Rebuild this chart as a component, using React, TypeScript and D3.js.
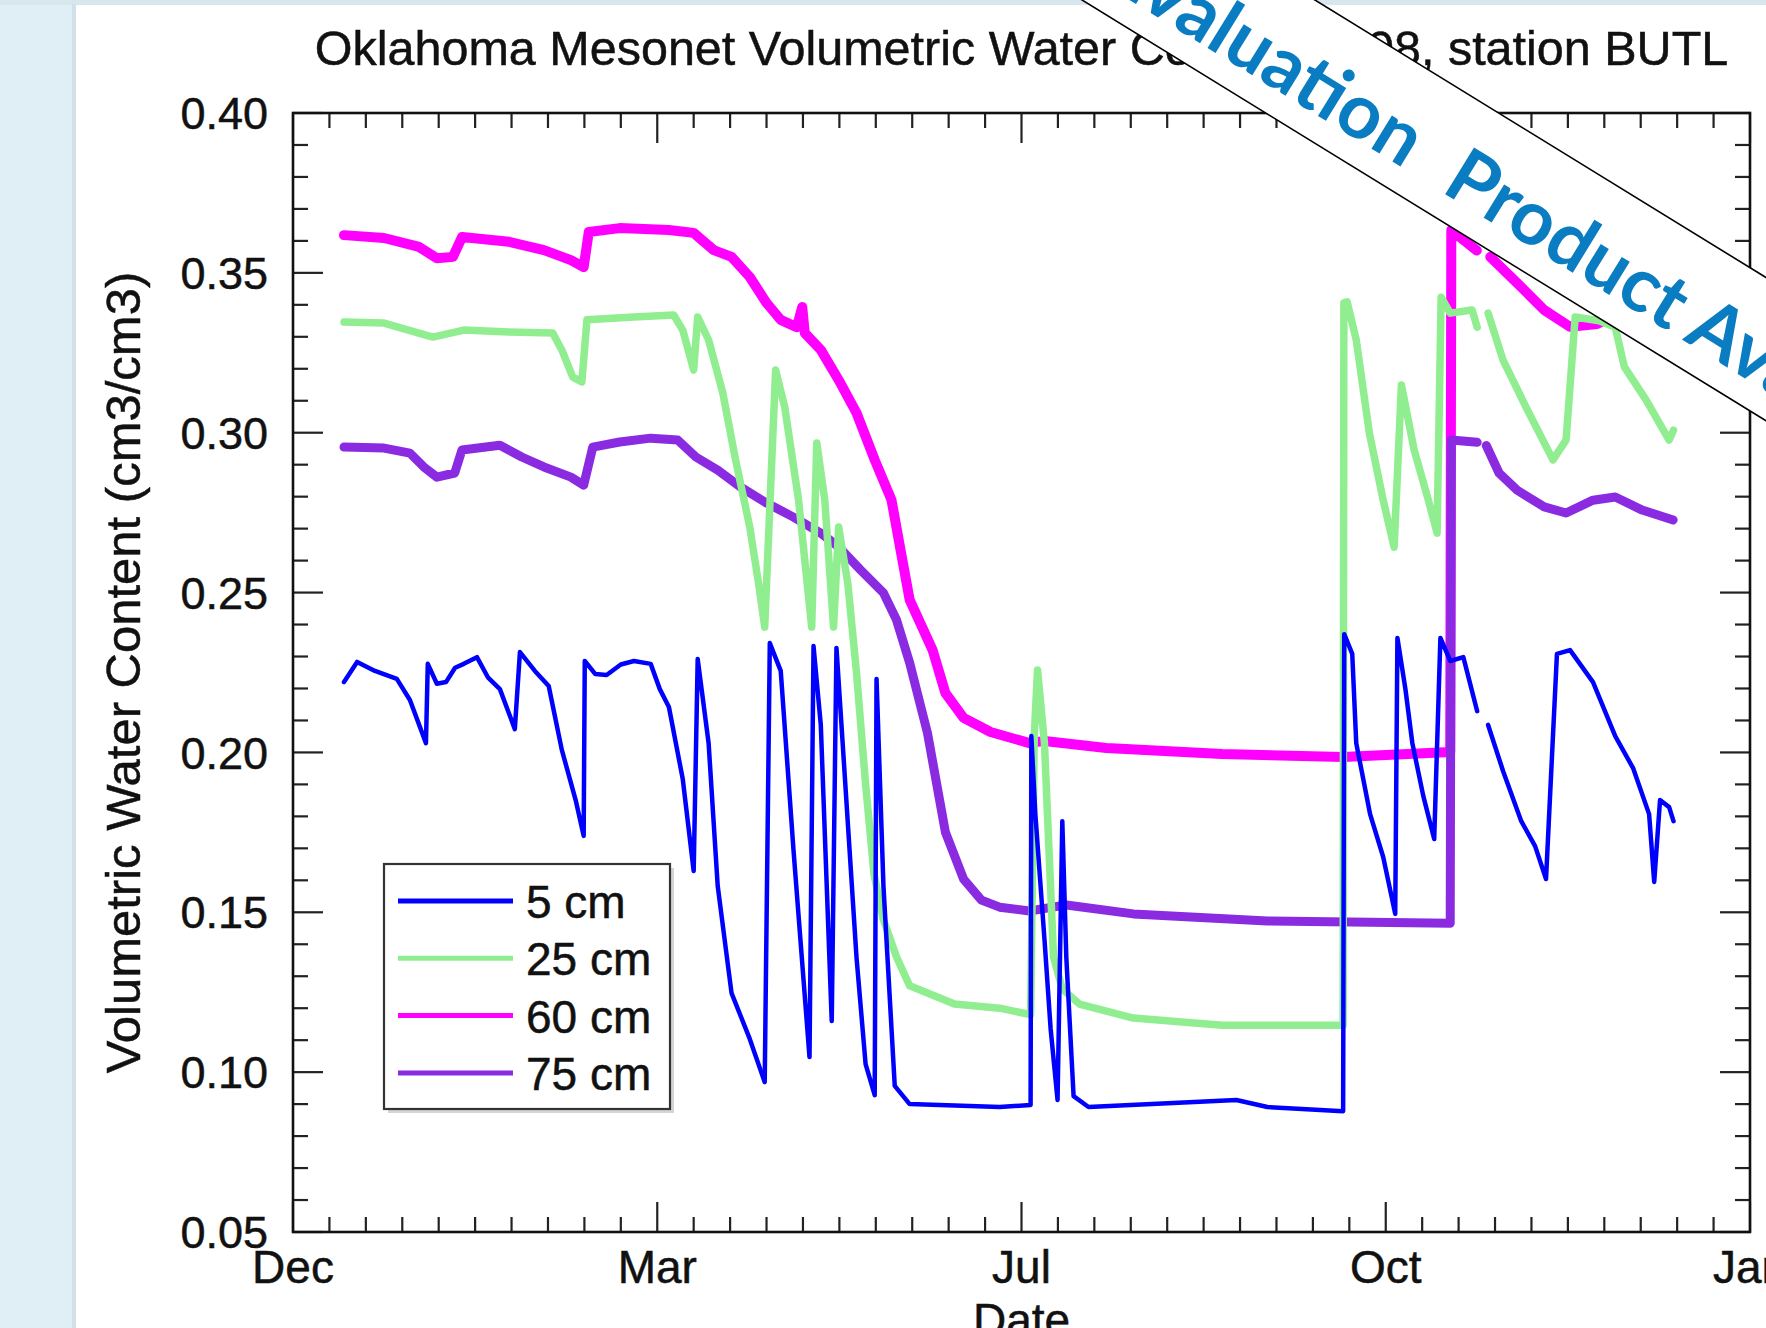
import React from "react";
import * as d3 from "d3";

const W = 1766;
const H = 1328;

const TITLE = "Oklahoma Mesonet Volumetric Water Content 2008, station BUTL";
const X_LABEL = "Date";
const Y_LABEL = "Volumetric Water Content (cm3/cm3)";
const WATERMARK_A = "Evaluation";
const WATERMARK_B = " Product Available";

// x axis runs in days counted from 18 Dec 2007; day-of-year 2008 = axisDay - 13
const DAY_OFFSET = 13;
const X_DOMAIN = [0, 400];
const X_MAJOR = [0, 100, 200, 300, 400];
const X_TICK_LABELS = ["Dec", "Mar", "Jul", "Oct", "Jan"];
const Y_DOMAIN = [0.05, 0.4];
const Y_MAJOR = [0.05, 0.1, 0.15, 0.2, 0.25, 0.3, 0.35, 0.4];

type Pt = [number, number | null];

// [day of year 2008, volumetric water content]
const depth5: Pt[] = [
  [1, 0.222], [4.6, 0.2283], [9.5, 0.2255], [15.5, 0.223], [19.1, 0.2164], [23.5, 0.2029],
  [24, 0.2277], [26.5, 0.2215], [29, 0.222], [31.5, 0.2265], [33.9, 0.2277], [37.5, 0.2298], [40.5, 0.2235],
  [43.8, 0.2198], [47.9, 0.2073],
  [49.3, 0.2314], [53.4, 0.2255], [57.2, 0.2208], [60.8, 0.2008], [64.6, 0.1851], [66.8, 0.1739],
  [67.1, 0.2286], [70, 0.2245], [73.1, 0.2242], [77, 0.2275], [80.6, 0.2286], [85.2, 0.2277], [87.7, 0.2198], [90.2, 0.2142],
  [94, 0.1917], [97, 0.1629], [98.1, 0.2292], [101.1, 0.2029], [103.6, 0.1582], [107.4, 0.1247],
  [112.4, 0.1104], [116.5, 0.0969], [117.9, 0.2342], [120.9, 0.2255], [124.4, 0.1695], [128.8, 0.1047],
  [129.9, 0.2333], [131.9, 0.2086], [134.9, 0.116], [136.2, 0.2327], [137.9, 0.2029], [141.7, 0.136],
  [144.2, 0.1025], [146.7, 0.0928], [147.2, 0.223], [149.1, 0.1582], [152.2, 0.0957], [156.3, 0.09],
  [181, 0.0891], [189.5, 0.0897], [189.7, 0.2051], [190.8, 0.1807], [193.3, 0.1416], [195, 0.1135],
  [196.9, 0.0913], [198.2, 0.1785], [199.3, 0.136], [201.3, 0.0925], [205.4, 0.0891], [246, 0.0913],
  [254.5, 0.0891], [275.3, 0.0878], [275.6, 0.237], [277.8, 0.2308], [278.9, 0.2029], [282.7, 0.1807],
  [286.3, 0.1673], [289.6, 0.1495], [290.2, 0.2358], [292.4, 0.2198], [294.3, 0.2029], [297.3, 0.1864],
  [300.3, 0.1729], [302, 0.2358], [304.7, 0.2286], [308.3, 0.2298], [312.1, 0.2129], [313, null],
  [315.1, 0.2086], [319.2, 0.1942], [324.2, 0.1785], [328, 0.1707], [331, 0.1604], [334, 0.2308],
  [337.6, 0.232], [343.9, 0.222], [350, 0.2051], [354.9, 0.1951], [359.3, 0.1807], [360.7, 0.1595],
  [362.3, 0.1851], [364.8, 0.1829], [366, 0.1785],
];

const depth25: Pt[] = [
  [1, 0.3346], [12, 0.3343], [25.4, 0.3299], [33.9, 0.3321], [46.3, 0.3315], [58.3, 0.3312],
  [60.8, 0.3259], [63.8, 0.3174], [66.3, 0.3159], [67.7, 0.3353], [80.6, 0.3362], [91.5, 0.3368],
  [94, 0.3321], [97, 0.3196], [98.1, 0.3362], [101.1, 0.329], [105, 0.3124], [108.5, 0.2915],
  [112.4, 0.2705], [114.8, 0.253], [116.5, 0.2392], [119.5, 0.3196], [122, 0.308], [125.8, 0.2789],
  [129.4, 0.2392], [130.8, 0.2968], [133, 0.2789], [135.4, 0.2392], [136.8, 0.2705], [139.3, 0.253],
  [141.7, 0.225], [144.2, 0.19], [146.5, 0.162], [149, 0.148], [152.7, 0.136], [156.3, 0.127],
  [168.6, 0.1213], [181, 0.12], [189.5, 0.118], [190.5, 0.205], [191.4, 0.2258], [193.3, 0.2029],
  [195.8, 0.136], [198.2, 0.126], [202.9, 0.1213], [217.7, 0.1169], [242.1, 0.1147], [275.3, 0.1147],
  [275.5, 0.3406], [276.4, 0.3409], [278.9, 0.329], [282.5, 0.2999], [286.3, 0.2789], [289.3, 0.2642],
  [291.3, 0.3149], [294.8, 0.2946], [298.7, 0.2789], [301.1, 0.2686], [302.2, 0.3424], [304.7, 0.3374],
  [310.7, 0.3384], [312.1, 0.333], [313, null], [315.1, 0.3374], [319.2, 0.3227], [325.5, 0.308],
  [332.9, 0.2915], [336.5, 0.2977], [339, 0.3362], [345.6, 0.335], [350, 0.333], [352.5, 0.3206],
  [358.5, 0.3102], [364.8, 0.2977], [366, 0.3008],
];

const depth60: Pt[] = [
  [1, 0.3618], [12, 0.3609], [21.6, 0.3581], [26.5, 0.3546], [30.9, 0.355], [33.4, 0.3612],
  [46.3, 0.3597], [55.9, 0.3571], [63.3, 0.354], [66.8, 0.3518], [68.2, 0.3628], [76.7, 0.364],
  [90.2, 0.3634], [97, 0.3625], [102.5, 0.3571], [107.4, 0.355], [112.4, 0.3487], [117, 0.3406],
  [120.9, 0.3353], [125.3, 0.333], [126.8, 0.3393], [127.5, 0.3312], [131.9, 0.3259], [136.8, 0.3165],
  [141.7, 0.3062], [146.7, 0.2915], [151.3, 0.279], [153.8, 0.2633], [156.3, 0.2477], [162.6, 0.232],
  [166.1, 0.2186], [171.1, 0.2108], [178.5, 0.2064], [189.2, 0.2029], [193.3, 0.2036], [210.3, 0.2014],
  [242.1, 0.1995], [275.3, 0.1986], [304.7, 0.2001], [305, 0.3634], [308.3, 0.3603], [312, 0.357],
  [313, null], [315.7, 0.355], [323.1, 0.3468], [330.5, 0.3384], [337.6, 0.3331], [345, 0.334],
  [352, 0.338], [359, 0.337], [366, 0.335],
];

const depth75: Pt[] = [
  [1, 0.2955], [12, 0.2952], [19.1, 0.2936], [22.9, 0.2893], [26.5, 0.2861], [31.4, 0.2874],
  [33.4, 0.2946], [43.8, 0.2961], [49.8, 0.2924], [55.9, 0.2893], [63.3, 0.2861], [66.8, 0.2836],
  [69.3, 0.2955], [76.7, 0.2971], [85.2, 0.2983], [92.6, 0.2977], [97.6, 0.2924], [103.6, 0.2883],
  [109.9, 0.283], [117, 0.278], [124.4, 0.2736], [131.9, 0.2686], [136.8, 0.2643], [142.8, 0.2571],
  [149.1, 0.2499], [152.7, 0.2414], [156.3, 0.228], [161.2, 0.206], [166.1, 0.1751], [171.1, 0.1604],
  [176, 0.1538], [181, 0.1516], [189.2, 0.1504], [199.3, 0.1523], [217.7, 0.1495], [254.5, 0.1473],
  [304.7, 0.1466], [305, 0.2977], [312.1, 0.297], [313, null], [314.6, 0.296], [318.1, 0.2874],
  [323.1, 0.282], [330.5, 0.2768], [336.5, 0.2749], [343.9, 0.2789], [350, 0.2799], [357.4, 0.2758],
  [365.9, 0.2727],
];

const SERIES_LABELS = ["5 cm", "25 cm", "60 cm", "75 cm"];
const SERIES_COLORS = ["#0000ff", "#90ee90", "#ff00ff", "#8a2be2"];
const SERIES_DATA = [depth5, depth25, depth60, depth75];
const SERIES_WIDTH = [4.5, 7.5, 10, 9];
const DRAW_ORDER = [2, 3, 1, 0];

const FONT = "'Liberation Sans', Arial, Helvetica, sans-serif";

export default function App() {
  const left = 293, right = 1750, top = 113, bottom = 1232;
  const x = d3.scaleLinear().domain(X_DOMAIN).range([left, right]);
  const y = d3.scaleLinear().domain(Y_DOMAIN).range([bottom, top]);

  const line = d3
    .line<Pt>()
    .defined((d) => d[1] !== null)
    .x((d) => x(d[0] + DAY_OFFSET))
    .y((d) => y(d[1] as number));

  const xMinor = d3.range(X_DOMAIN[0], X_DOMAIN[1] + 0.001, 10);
  const yMinor = d3.range(0, 36).map((i) => +(0.05 + i * 0.01).toFixed(2));
  const isMajorY = (v: number) => Y_MAJOR.some((m) => Math.abs(m - v) < 1e-6);

  const minorLen = 15;
  const majorLen = 30;
  const tickColor = "#222";

  const legX = 384, legY = 864, legW = 286, legH = 245;
  const rowY0 = 901, rowStep = 57.3;
  const txt = { fill: "#111", stroke: "#111", strokeWidth: 0.5 };

  return (
    <svg width={W} height={H} style={{ position: "absolute", left: 0, top: 0 }} fontFamily={FONT}>
      <rect x={0} y={0} width={W} height={H} fill="#e0eef6" />
      <rect x={0} y={0} width={W} height={5} fill="#d8e6ed" />
      <rect x={72} y={4} width={5} height={H} fill="#d2e1e9" />
      <rect x={76} y={5} width={W - 76} height={H - 5} fill="#ffffff" />

      {/* title */}
      <text x={(left + right) / 2} y={65} fontSize={48.5} textAnchor="middle" {...txt}>
        {TITLE}
      </text>

      {/* data */}
      <g>
        {DRAW_ORDER.map((i) => (
          <path
            key={SERIES_LABELS[i]}
            d={line(SERIES_DATA[i]) || ""}
            fill="none"
            stroke={SERIES_COLORS[i]}
            strokeWidth={SERIES_WIDTH[i]}
            strokeLinejoin="round"
            strokeLinecap="round"
          />
        ))}
      </g>

      {/* ticks */}
      <g stroke={tickColor} strokeWidth={2.2}>
        {xMinor.map((v) => {
          const major = X_MAJOR.includes(v);
          const L = major ? majorLen : minorLen;
          const xx = x(v);
          return (
            <g key={"xt" + v}>
              <line x1={xx} x2={xx} y1={bottom} y2={bottom - L} />
              <line x1={xx} x2={xx} y1={top} y2={top + L} />
            </g>
          );
        })}
        {yMinor.map((v) => {
          const L = isMajorY(v) ? majorLen : minorLen;
          const yy = y(v);
          return (
            <g key={"yt" + v}>
              <line x1={left} x2={left + L} y1={yy} y2={yy} />
              <line x1={right} x2={right - L} y1={yy} y2={yy} />
            </g>
          );
        })}
      </g>

      {/* frame */}
      <rect x={left} y={top} width={right - left} height={bottom - top} fill="none" stroke="#111" strokeWidth={2.6} />

      {/* y tick labels */}
      {Y_MAJOR.map((v) => (
        <text key={"yl" + v} x={268} y={y(v)} dy="0.36em" fontSize={45} textAnchor="end" {...txt}>
          {v.toFixed(2)}
        </text>
      ))}
      {/* x tick labels */}
      {X_MAJOR.map((v, i) => (
        <text key={"xl" + v} x={x(v)} y={1283} fontSize={46} textAnchor="middle" {...txt}>
          {X_TICK_LABELS[i]}
        </text>
      ))}
      <text x={(left + right) / 2} y={1336} fontSize={46} textAnchor="middle" {...txt}>
        {X_LABEL}
      </text>
      <text
        transform={`translate(140,${(top + bottom) / 2}) rotate(-90)`}
        fontSize={49}
        textAnchor="middle"
        {...txt}
      >
        {Y_LABEL}
      </text>

      {/* legend */}
      <rect x={legX + 4} y={legY + 4} width={legW} height={legH} fill="#d4d4d4" />
      <rect x={legX} y={legY} width={legW} height={legH} fill="#ffffff" stroke="#333" strokeWidth={2.2} />
      {SERIES_LABELS.map((lab, i) => (
        <g key={"lg" + lab}>
          <line
            x1={398}
            x2={513}
            y1={rowY0 + i * rowStep}
            y2={rowY0 + i * rowStep}
            stroke={SERIES_COLORS[i]}
            strokeWidth={5}
          />
          <text x={526} y={rowY0 + i * rowStep + 17} fontSize={46} {...txt}>
            {lab}
          </text>
        </g>
      ))}

      {/* watermark banner */}
      <g transform="translate(1198.5,0) rotate(31.6)">
        <rect x={-1500} y={-61} width={3000} height={122} fill="#ffffff" />
        <line x1={-1500} x2={1500} y1={-61} y2={-61} stroke="#000" strokeWidth={1.6} />
        <line x1={-1500} x2={1500} y1={61} y2={61} stroke="#000" strokeWidth={1.6} />
        <text
          x={-92}
          y={36}
          fontSize={76}
          fontWeight={700}
          fill="#0a7cc1"
          fontFamily="Lato, 'Open Sans', sans-serif"
        >
          {WATERMARK_A}
          <tspan dx={24}>{WATERMARK_B}</tspan>
        </text>
      </g>
    </svg>
  );
}
